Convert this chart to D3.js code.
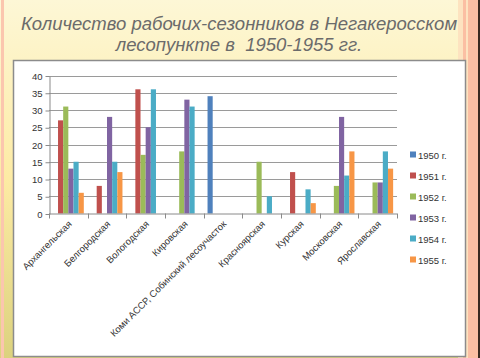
<!DOCTYPE html>
<html><head><meta charset="utf-8">
<script src="https://cdn.jsdelivr.net/npm/d3@7"></script>
<style>html,body{margin:0;padding:0;overflow:hidden;}</style>
</head><body>
<script>
const categories = ["Архангельская","Белгородская","Вологодская","Кировская","Коми АССР, Собинский лесоучасток","Красноярская","Курская","Московская","Ярославская"];
const seriesNames = ["1950 г.","1951 г.","1952 г.","1953 г.","1954 г.","1955 г."];
const v1950 = [0,0,0,0,34,0,0,0,0];
const v1951 = [27,8,36,0,0,0,12,0,0];
const v1952 = [31,0,17,18,0,15,0,8,9];
const v1953 = [13,28,25,33,0,0,0,28,9];
const v1954 = [15,15,36,31,0,5,7,11,18];
const v1955 = [6,12,0,0,0,0,3,18,13];
const yTicks = [0,5,10,15,20,25,30,35,40];
const colors = ["#4F81BD","#C0504D","#9BBB59","#8064A2","#4BACC6","#F79646"];
const series = [v1950,v1951,v1952,v1953,v1954,v1955];

(function(){
const W=480,H=358;
const svg=d3.select("body").append("svg").attr("width",W).attr("height",H);
const defs=svg.append("defs");
const g1=defs.append("linearGradient").attr("id","bg").attr("x1",0).attr("y1",0).attr("x2",0).attr("y2",1);
g1.append("stop").attr("offset","0").attr("stop-color","#fdf7d6");
g1.append("stop").attr("offset","0.5").attr("stop-color","#fdeba4");
g1.append("stop").attr("offset","1").attr("stop-color","#dcd27e");
svg.append("rect").attr("width",W).attr("height",H).attr("fill","url(#bg)");
svg.append("rect").attr("x",1).attr("y",0).attr("width",3).attr("height",H).attr("fill","#fbc6ae");
svg.append("rect").attr("x",458).attr("y",0).attr("width",22).attr("height",H).attr("fill","#fde3c0");
svg.append("rect").attr("x",463).attr("y",0).attr("width",3).attr("height",H).attr("fill","#fbbfa3");
svg.append("rect").attr("x",468).attr("y",0).attr("width",10).attr("height",H).attr("fill","#fbbfa3");
svg.append("rect").attr("x",478).attr("y",0).attr("width",2).attr("height",H).attr("fill","#3a2a20");

const title=svg.append("text").attr("text-anchor","middle").attr("font-family","Liberation Sans, Arial, sans-serif")
 .attr("font-style","italic").attr("font-size",18.5).attr("fill","#6b6b6b").style("white-space","pre");
title.append("tspan").attr("x",239).attr("y",30).text("Количество рабочих-сезонников в Негакеросском");
title.append("tspan").attr("x",239).attr("y",51).text("лесопункте в\u00a0 1950-1955 гг.");

svg.append("rect").attr("x",13.5).attr("y",60.5).attr("width",452).attr("height",296).attr("fill","#ffffff")
 .attr("stroke","#8c8c8c").attr("stroke-width",1.5);

const pl=49,pr=397,pt=75.5,pb=213.5;
const x=d3.scaleBand().domain(categories).range([pl,pr]).paddingInner(0).paddingOuter(0);
const y=d3.scaleLinear().domain([0,40]).range([pb,pt]);
const bw=x.bandwidth()/7.5;
const off=bw*0.75;

svg.append("g").selectAll("line").data(yTicks.slice(1)).join("line")
 .attr("x1",pl).attr("x2",pr).attr("y1",d=>Math.round(y(d))+0.5).attr("y2",d=>Math.round(y(d))+0.5)
 .attr("stroke","#9a9a9a").attr("stroke-width",1);

const yAxis=d3.axisLeft(y).tickValues(yTicks).tickSize(4).tickSizeOuter(0);
const ya=svg.append("g").attr("transform",`translate(${pl+0.5},0.5)`).call(yAxis);
ya.select(".domain").attr("stroke","#8a8a8a");
ya.selectAll(".tick line").attr("stroke","#8a8a8a");
ya.selectAll(".tick text").attr("font-family","Liberation Sans, Arial, sans-serif").attr("font-size",9.5).attr("fill","#333").attr("x",-7);

series.forEach((vals,si)=>{
  svg.append("g").selectAll("rect").data(vals.map((v,i)=>({v,c:categories[i]})).filter(d=>d.v>0)).join("rect")
   .attr("x",d=>x(d.c)+off+si*bw).attr("width",bw)
   .attr("y",d=>y(d.v)).attr("height",d=>y(0)-y(d.v)).attr("fill",colors[si]);
});

const xa=svg.append("g").attr("transform",`translate(0,${pb})`);
xa.append("line").attr("x1",pl).attr("x2",pr).attr("y1",0.5).attr("y2",0.5).attr("stroke","#8a8a8a");
const bounds=categories.map(c=>x(c)).concat([pr]);
xa.selectAll("line.t").data(bounds).join("line").attr("class","t")
 .attr("x1",d=>Math.round(d)+0.5).attr("x2",d=>Math.round(d)+0.5).attr("y1",0).attr("y2",5).attr("stroke","#8a8a8a");
xa.selectAll("text").data(categories).join("text")
 .attr("font-family","Liberation Sans, Arial, sans-serif").attr("font-size",9.5).attr("fill","#333")
 .attr("text-anchor","end")
 .attr("transform",d=>`translate(${x(d)+x.bandwidth()/2+4},${11}) rotate(-45)`)
 .text(d=>d);

const lg=svg.append("g");
seriesNames.forEach((n,i)=>{
  const yy=155+i*21;
  lg.append("rect").attr("x",410).attr("y",yy-3.5).attr("width",6).attr("height",6).attr("fill",colors[i]);
  lg.append("text").attr("x",418).attr("y",yy+3.5).attr("font-family","Liberation Sans, Arial, sans-serif")
   .attr("font-size",9.5).attr("fill","#333").text(n);
});
})();
</script>
</body></html>
